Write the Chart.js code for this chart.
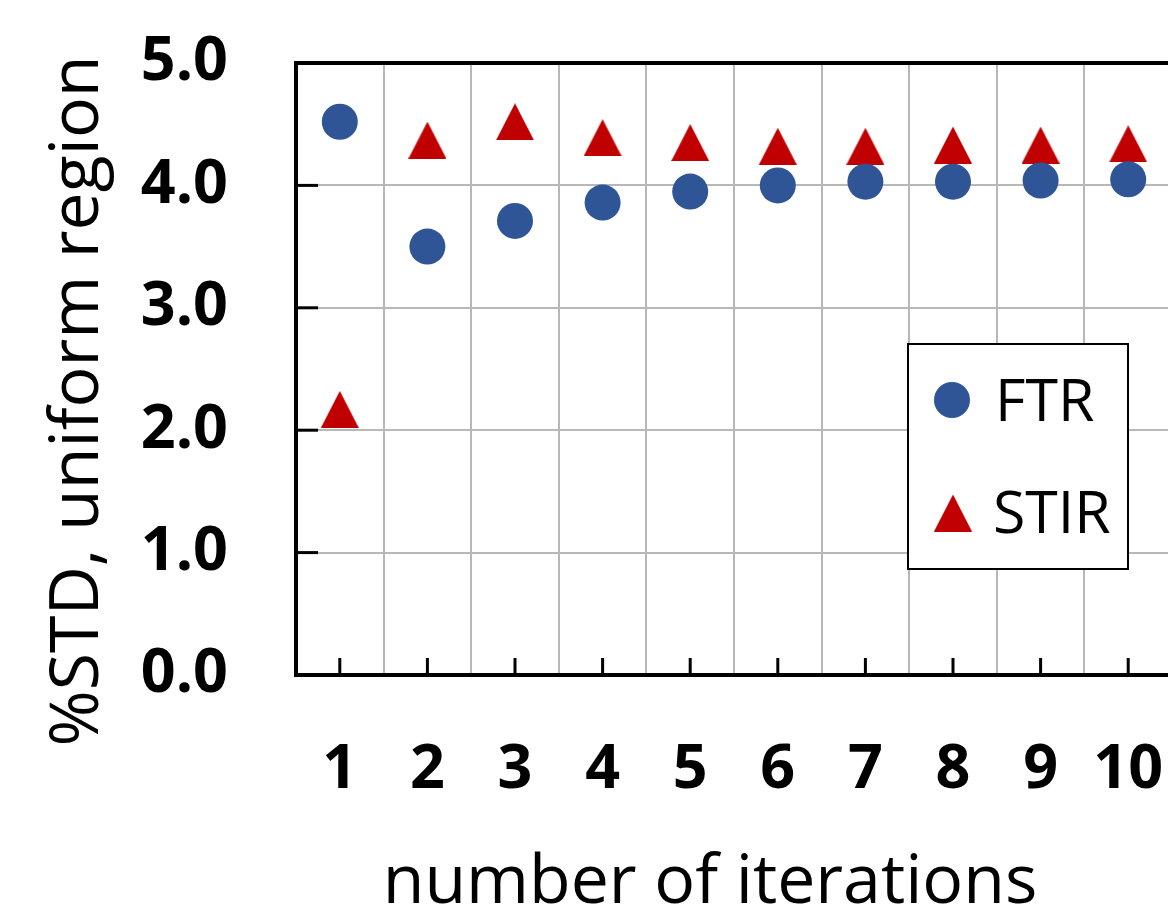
<!DOCTYPE html>
<html><head><meta charset="utf-8">
<script src="https://cdn.jsdelivr.net/npm/chart.js@4.4.1/dist/chart.umd.min.js"></script>
<style>html,body{margin:0;padding:0;background:#fff;overflow:hidden}#wrap{width:1168px;height:912px;overflow:hidden;position:relative}#c{display:block;position:absolute;left:0;top:0;width:1180px;height:912px}</style>
</head><body><div id="wrap"><canvas id="c" width="1180" height="912"></canvas></div>
<script>
const categories = ['1','2','3','4','5','6','7','8','9','10'];
const ftrValues  = [4.52, 3.50, 3.71, 3.86, 3.95, 4.00, 4.03, 4.03, 4.04, 4.05];
const stirValues = [2.17, 4.37, 4.52, 4.39, 4.35, 4.32, 4.32, 4.33, 4.33, 4.34];
const yTicks = [0, 1, 2, 3, 4, 5];
const seriesLabels = ['FTR', 'STIR'];
const xTitle = 'number of iterations';
const yTitle = '%STD, uniform region';

const BLUE = '#2F5597', RED = '#C00000', GRID = '#b8b8b8';
const FONT = '"Open Sans", "Noto Sans", sans-serif';
const PLOT_RIGHT = 1172;

function makeTri(w, h, color) {
  const c = document.createElement('canvas'); c.width = w; c.height = h;
  const g = c.getContext('2d'); g.fillStyle = color;
  g.beginPath(); g.moveTo(w / 2, 0); g.lineTo(w, h); g.lineTo(0, h); g.closePath(); g.fill();
  return c;
}
const triImg = makeTri(38, 37, RED);

const decor = {
  id: 'decor',
  beforeDatasetsDraw(chart) {
    const { ctx, chartArea: a, scales: { x, y } } = chart;
    ctx.save();
    ctx.strokeStyle = '#000'; ctx.lineWidth = 3;
    yTicks.forEach(v => {
      const py = y.getPixelForValue(v);
      ctx.beginPath(); ctx.moveTo(a.left, py); ctx.lineTo(a.left + 22, py); ctx.stroke();
    });
    categories.forEach((c, i) => {
      const px = x.getPixelForValue(i);
      ctx.beginPath(); ctx.moveTo(px, a.bottom); ctx.lineTo(px, a.bottom - 17); ctx.stroke();
    });
    ctx.lineWidth = 4;
    ctx.beginPath(); ctx.moveTo(a.left - 2, a.top); ctx.lineTo(a.right + 2, a.top); ctx.stroke();
    ctx.restore();
  },
  afterDraw(chart) {
    const { ctx } = chart;
    ctx.save();
    ctx.fillStyle = '#000';
    ctx.font = '68px ' + FONT;
    ctx.textAlign = 'center'; ctx.textBaseline = 'alphabetic';
    ctx.fillText(xTitle, 710, 903);
    ctx.translate(98, 401); ctx.rotate(-Math.PI / 2);
    ctx.fillText(yTitle, 0, 0);
    ctx.restore();
    ctx.save();
    const lx = 908, ly = 344, lw = 220, lh = 225;
    ctx.fillStyle = '#fff'; ctx.fillRect(lx, ly, lw, lh);
    ctx.strokeStyle = '#000'; ctx.lineWidth = 2; ctx.strokeRect(lx, ly, lw, lh);
    ctx.fillStyle = BLUE; ctx.beginPath(); ctx.arc(952, 400, 18, 0, Math.PI * 2); ctx.fill();
    ctx.drawImage(triImg, 953 - 19, 513 - 18.5);
    ctx.fillStyle = '#000'; ctx.font = '59px ' + FONT; ctx.textAlign = 'left'; ctx.textBaseline = 'alphabetic';
    ctx.fillText(seriesLabels[0], 995, 421);
    ctx.fillText(seriesLabels[1], 993, 533);
    ctx.restore();
  }
};

new Chart(document.getElementById('c'), {
  type: 'line',
  data: {
    labels: categories,
    datasets: [
      { label: seriesLabels[0], data: ftrValues, showLine: false, pointStyle: 'circle', pointRadius: 18, pointHoverRadius: 18,
        backgroundColor: BLUE, borderColor: BLUE, pointBorderWidth: 0 },
      { label: seriesLabels[1], data: stirValues, showLine: false, pointStyle: triImg, pointRadius: 18, pointHoverRadius: 18,
        backgroundColor: RED, borderColor: RED, pointBorderWidth: 0 }
    ]
  },
  options: {
    responsive: false, animation: false, devicePixelRatio: 1,
    layout: {
      autoPadding: false,
      padding: (ctx) => ({ top: 63, right: ctx.chart.width - PLOT_RIGHT, left: 0, bottom: 0 })
    },
    plugins: { legend: { display: false }, tooltip: { enabled: false } },
    scales: {
      x: {
        offset: true,
        grid: { offset: true, color: GRID, lineWidth: 2, drawTicks: false },
        border: { color: '#000', width: 4 },
        ticks: { color: '#000', padding: 59, font: { family: FONT, size: 61, weight: 'bold' }, maxRotation: 0, autoSkip: false },
        afterFit(s) { s.height = 237; s.paddingLeft = 0; s.paddingRight = 0; }
      },
      y: {
        min: 0, max: 5,
        afterBuildTicks(s) { s.ticks = yTicks.map(v => ({ value: v })); },
        grid: { color: GRID, lineWidth: 2, drawTicks: false },
        border: { color: '#000', width: 4 },
        ticks: { color: '#000', padding: 68, font: { family: FONT, size: 61, weight: 'bold' }, callback: v => Number(v).toFixed(1) },
        afterFit(s) { s.width = 296; s.paddingTop = 0; s.paddingBottom = 0; }
      }
    }
  },
  plugins: [decor]
});
</script></body></html>
